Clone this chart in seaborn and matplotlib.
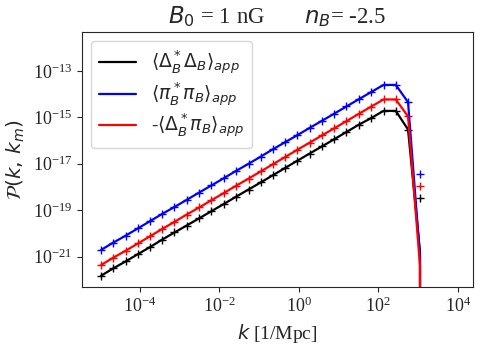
import numpy as np
import pandas as pd
import matplotlib
matplotlib.use("Agg")
import matplotlib.pyplot as plt
import seaborn as sns

# k grid (1/Mpc)
k = [1.05e-5, 2.1e-5, 4.4e-5, 8.9e-5, 1.8e-4, 3.6e-4, 7.4e-4, 1.5e-3, 3.1e-3,
     6.3e-3, 1.29e-2, 2.6e-2, 5.4e-2, 0.11, 0.22, 0.45, 0.91, 1.86, 3.8, 7.8,
     15.8, 32, 66, 135, 275, 560, 1120]
k_line_end = [2300]

# marker values (numerical)
dd_num = [1.51e-22, 3.1e-22, 6.3e-22, 1.29e-21, 2.6e-21, 5.4e-21, 1.1e-20, 2.2e-20,
          4.5e-20, 9.1e-20, 1.86e-19, 3.8e-19, 7.8e-19, 1.58e-18, 3.2e-18, 6.6e-18,
          1.35e-17, 2.75e-17, 5.6e-17, 1.15e-16, 2.35e-16, 4.8e-16, 9.3e-16, 1.9e-15,
          1.9e-15, 3.0e-16, 3.3e-19]
pp_num = [1.95e-21, 3.98e-21, 8.1e-21, 1.66e-20, 3.4e-20, 6.9e-20, 1.38e-19, 2.8e-19,
          5.8e-19, 1.17e-18, 2.4e-18, 4.9e-18, 1.0e-17, 2.04e-17, 4.2e-17, 8.5e-17,
          1.7e-16, 3.5e-16, 7.1e-16, 1.45e-15, 2.95e-15, 6.0e-15, 1.23e-14, 2.5e-14,
          2.5e-14, 4.5e-15, 3.7e-18]
dp_num = [4.4e-22, 8.9e-22, 1.82e-21, 3.7e-21, 7.6e-21, 1.55e-20, 3.16e-20, 6.5e-20,
          1.32e-19, 2.7e-19, 5.5e-19, 1.12e-18, 2.3e-18, 4.7e-18, 9.5e-18, 1.95e-17,
          4.0e-17, 8.1e-17, 1.66e-16, 3.4e-16, 6.9e-16, 1.41e-15, 2.9e-15, 5.9e-15,
          5.9e-15, 1.1e-15, 1.07e-18]

# approximation lines: same as markers up to the peak, then the cutoff
dd_tail = [1.6e-21, 0.0]
pp_tail = [1.0e-21, 0.0]
dp_tail = [4.0e-22, 0.0]

k_line = k + k_line_end
dd_app = dd_num[:-1] + dd_tail
pp_app = pp_num[:-1] + pp_tail
dp_app = dp_num[:-1] + dp_tail

labels = [r"$\langle\Delta_B^*\Delta_B\rangle_{app}$",
          r"$\langle\pi_B^*\pi_B\rangle_{app}$",
          r"-$\langle\Delta_B^*\pi_B\rangle_{app}$"]
colors = ["black", "blue", "red"]

sns.set_style("ticks")
plt.rcParams["font.family"] = ["Liberation Serif", "DejaVu Serif"]
plt.rcParams["mathtext.fontset"] = "dejavusans"

fig = plt.figure(figsize=(4.85, 3.47), dpi=100)
ax = fig.add_axes([0.169, 0.172, 0.806, 0.736])

apps = [dd_app, pp_app, dp_app]
nums = [dd_num, pp_num, dp_num]
for y_app, y_num, lab, c in zip(apps, nums, labels, colors):
    sns.lineplot(x=k_line, y=y_app, color=c, label=lab, sort=False,
                 estimator=None, linewidth=1.6, ax=ax)
    sns.scatterplot(x=k, y=y_num, color=c, marker="+", s=30, linewidth=1.0,
                    legend=False, ax=ax)

ax.set_xscale("log")
ax.set_yscale("log")
ax.set_xlim(10**-5.46, 10**4.38)
ax.set_ylim(10**-22.32, 10**-11.32)
ax.set_xticks([1e-4, 1e-2, 1e0, 1e2, 1e4])
ax.set_yticks([1e-21, 1e-19, 1e-17, 1e-15, 1e-13])
ax.xaxis.set_minor_locator(matplotlib.ticker.NullLocator())
ax.yaxis.set_minor_locator(matplotlib.ticker.NullLocator())
ax.tick_params(labelsize=13, length=3.5, width=0.8)

ax.set_xlabel(r"$k$ [1/Mpc]", fontsize=14)
ax.set_ylabel(r"$\mathcal{P}(k,\, k_m)$", fontsize=14.5)
ax.set_title(r"$B_0$ = 1 nG       $n_B$= -2.5", fontsize=16.5)

ax.legend(loc="upper left", fontsize=13.5, frameon=True, labelspacing=0.2,
          handlelength=2.0)

fig.savefig("out.png", dpi=100)
